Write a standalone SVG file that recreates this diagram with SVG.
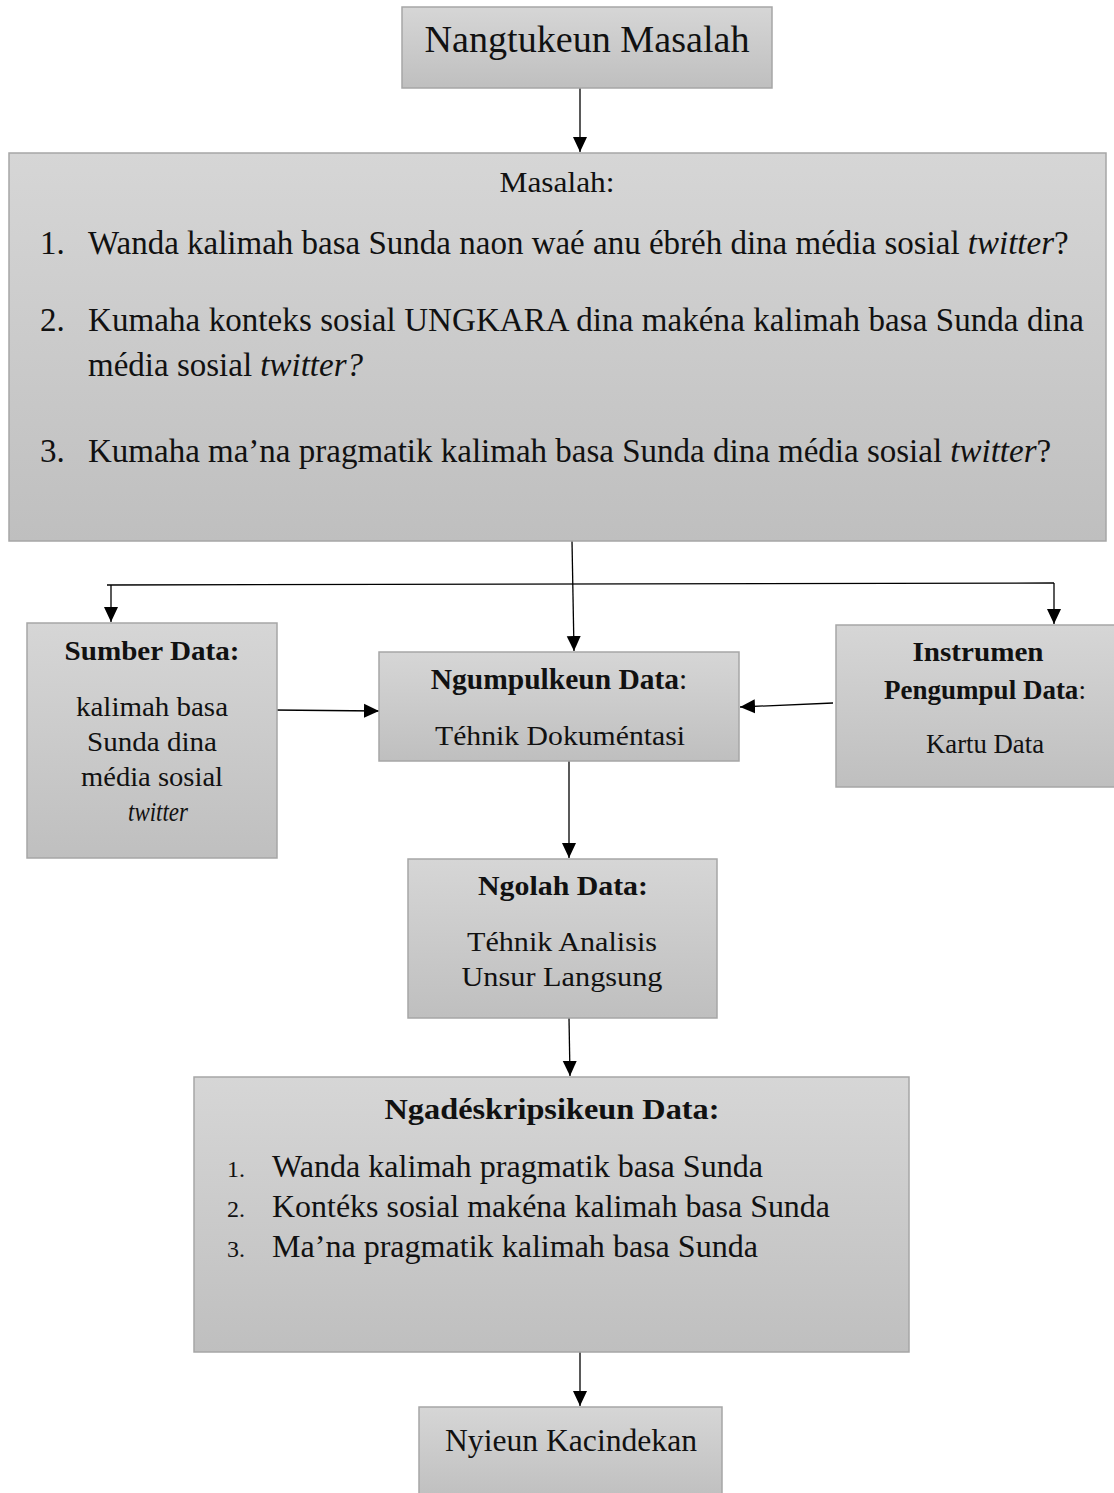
<svg xmlns="http://www.w3.org/2000/svg" width="1114" height="1493" viewBox="0 0 1114 1493">
<defs>
<linearGradient id="g" x1="0" y1="0" x2="0" y2="1">
<stop offset="0" stop-color="#d6d6d6"/>
<stop offset="1" stop-color="#bfbfbf"/>
</linearGradient>
<marker id="ah" markerUnits="userSpaceOnUse" markerWidth="16" markerHeight="16" viewBox="0 0 16 16" refX="15" refY="8" orient="auto">
<path d="M0,1 L15,8 L0,15 Z" fill="#000"/>
</marker>
<style>
.box{fill:url(#g);stroke:#a6a6a6;stroke-width:1.5}
.t{font-family:"Liberation Serif",serif;fill:#111}
.c{text-anchor:middle}
.b{font-weight:bold}
.i{font-style:italic}
.ln{fill:none;stroke:#000;stroke-width:1.3}
.ar{marker-end:url(#ah)}
</style>
</defs>
<g id="connectors">
<line class="ln ar" x1="580" y1="88" x2="580" y2="152"/>
<line class="ln ar" x1="572" y1="541" x2="574" y2="651"/>
<polyline class="ln" points="107,585 1054,583"/>
<line class="ln ar" x1="111" y1="585" x2="111" y2="622"/>
<line class="ln ar" x1="1054" y1="583" x2="1054" y2="624"/>
<line class="ln ar" x1="273" y1="710" x2="379" y2="711"/>
<line class="ln ar" x1="833" y1="703" x2="740" y2="707"/>
<line class="ln ar" x1="569" y1="761" x2="569" y2="858"/>
<line class="ln ar" x1="569" y1="1018" x2="570" y2="1076"/>
<line class="ln ar" x1="580" y1="1352" x2="580" y2="1406"/>
</g>
<g id="n1">
<rect class="box" x="402" y="7" width="370" height="81"/>
<text class="t c" x="587" y="52" font-size="37" textLength="325" lengthAdjust="spacingAndGlyphs">Nangtukeun Masalah</text>
</g>
<g id="n2">
<rect class="box" x="9" y="153" width="1097" height="388"/>
<text class="t c" x="557" y="192" font-size="30" textLength="115" lengthAdjust="spacingAndGlyphs">Masalah:</text>
<g class="t" font-size="33">
<text x="40" y="254">1.</text>
<text x="88" y="254">Wanda kalimah basa Sunda naon waé anu ébréh dina média sosial <tspan class="i">twitter</tspan>?</text>
<text x="40" y="331">2.</text>
<text x="88" y="331" textLength="996">Kumaha konteks sosial UNGKARA dina makéna kalimah basa Sunda dina</text>
<text x="88" y="376">média sosial <tspan class="i">twitter?</tspan></text>
<text x="40" y="462">3.</text>
<text x="88" y="462">Kumaha ma’na pragmatik kalimah basa Sunda dina média sosial <tspan class="i">twitter</tspan>?</text>
</g>
</g>
<g id="n3">
<rect class="box" x="27" y="623" width="250" height="235"/>
<g class="t c" font-size="28">
<text class="b" x="152" y="660" textLength="175" lengthAdjust="spacingAndGlyphs">Sumber Data:</text>
<text x="152" y="716" textLength="152" lengthAdjust="spacingAndGlyphs">kalimah basa</text>
<text x="152" y="751" textLength="130" lengthAdjust="spacingAndGlyphs">Sunda dina</text>
<text x="152" y="786" textLength="142" lengthAdjust="spacingAndGlyphs">média sosial</text>
<text class="i" x="158" y="821" textLength="60" lengthAdjust="spacingAndGlyphs">twitter</text>
</g>
</g>
<g id="n4">
<rect class="box" x="379" y="652" width="360" height="109"/>
<g class="t c">
<text x="559" y="689" font-size="29.5"><tspan class="b">Ngumpulkeun Data</tspan>:</text>
<text x="560" y="745" font-size="28" textLength="250" lengthAdjust="spacingAndGlyphs">Téhnik Dokuméntasi</text>
</g>
</g>
<g id="n5">
<rect class="box" x="836" y="625" width="280" height="162"/>
<g class="t c" font-size="28">
<text class="b" x="978" y="661" textLength="131" lengthAdjust="spacingAndGlyphs">Instrumen</text>
<text x="985" y="699" font-size="27"><tspan class="b">Pengumpul Data</tspan>:</text>
<text x="985" y="753" textLength="118" lengthAdjust="spacingAndGlyphs">Kartu Data</text>
</g>
</g>
<g id="n6">
<rect class="box" x="408" y="859" width="309" height="159"/>
<g class="t c" font-size="28">
<text class="b" x="563" y="895" textLength="170" lengthAdjust="spacingAndGlyphs">Ngolah Data:</text>
<text x="562" y="951" textLength="190" lengthAdjust="spacingAndGlyphs">Téhnik Analisis</text>
<text x="562" y="986" textLength="201" lengthAdjust="spacingAndGlyphs">Unsur Langsung</text>
</g>
</g>
<g id="n7">
<rect class="box" x="194" y="1077" width="715" height="275"/>
<text class="t c b" x="552" y="1119" font-size="29" textLength="335" lengthAdjust="spacingAndGlyphs">Ngadéskripsikeun Data:</text>
<g class="t" font-size="31">
<text x="227" y="1177" font-size="24">1.</text>
<text x="272" y="1177" textLength="491" lengthAdjust="spacingAndGlyphs">Wanda kalimah pragmatik basa Sunda</text>
<text x="227" y="1217" font-size="24">2.</text>
<text x="272" y="1217" textLength="558" lengthAdjust="spacingAndGlyphs">Kontéks sosial makéna kalimah basa Sunda</text>
<text x="227" y="1257" font-size="24">3.</text>
<text x="272" y="1257" textLength="486" lengthAdjust="spacingAndGlyphs">Ma’na pragmatik kalimah basa Sunda</text>
</g>
</g>
<g id="n8">
<rect class="box" x="419" y="1407" width="303" height="92"/>
<text class="t c" x="571" y="1451" font-size="32" textLength="252" lengthAdjust="spacingAndGlyphs">Nyieun Kacindekan</text>
</g>
</svg>
